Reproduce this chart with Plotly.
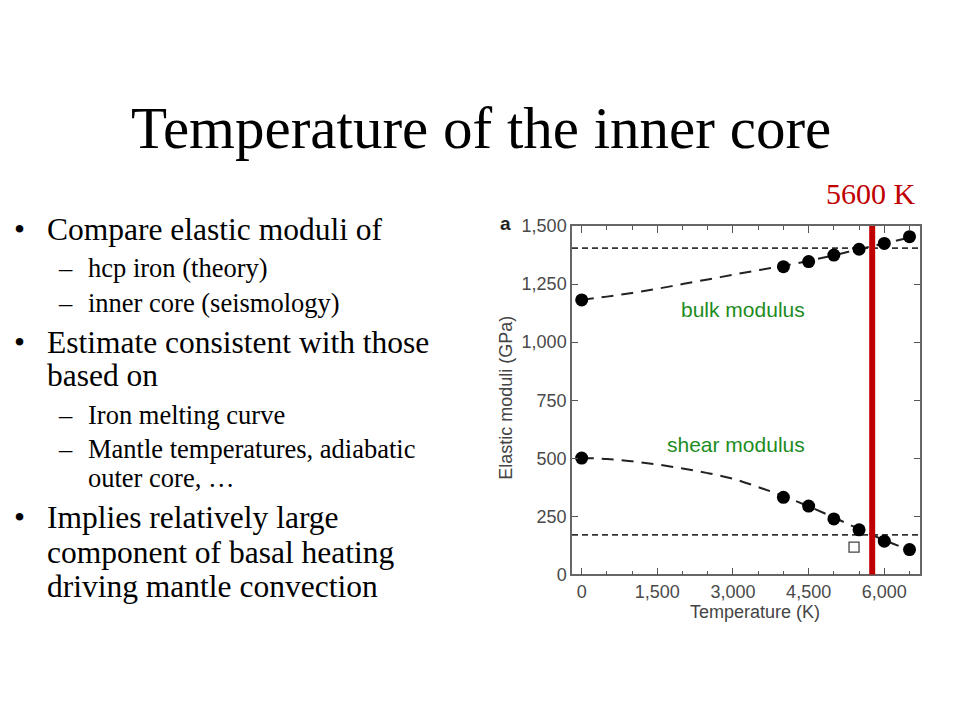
import plotly.graph_objects as go

# ---------------- data ----------------
temps_pts = [0, 4000, 4500, 5000, 5500, 6000, 6500]
bulk_pts = [1182, 1325, 1347, 1375, 1400, 1425, 1454]
shear_pts = [501, 332, 294, 239, 192, 143, 107]

fit_temps = [0, 500, 1000, 1500, 2000, 2500, 3000, 3500, 4000, 4500, 5000, 5500, 6000, 6500]
bulk_fit = [1182, 1196, 1212, 1230, 1250, 1270, 1290, 1310, 1328, 1350, 1374, 1400, 1425, 1450]
shear_fit = [501, 497, 487, 473, 456, 436, 412, 376, 337, 293, 245, 195, 147, 105]

open_temp = [5400]
open_shear = [117]

bulk_core = 1405   # inner core bulk modulus (seismology)
shear_core = 170   # inner core shear modulus (seismology)
marker_temp = 5760  # red vertical line position
x_ticks = [0, 1500, 3000, 4500, 6000]
y_ticks = [0, 250, 500, 750, 1000, 1250, 1500]

title = "Temperature of the inner core"
bullets = [
    # (level, text, x_px, baseline_px, show_marker)
    (1, "Compare elastic moduli of", 47, 240, True),
    (2, "hcp iron (theory)", 88, 277, True),
    (2, "inner core (seismology)", 88, 312, True),
    (1, "Estimate consistent with those", 47, 353, True),
    (1, "based on", 47, 386, False),
    (2, "Iron melting curve", 88, 424, True),
    (2, "Mantle temperatures, adiabatic", 88, 458, True),
    (2, "outer core, \u2026", 88, 487, False),
    (1, "Implies relatively large", 47, 528, True),
    (1, "component of basal heating", 47, 563, False),
    (1, "driving mantle convection", 47, 597, False),
]

# ---------------- layout helpers ----------------
W, H = 960, 720
OFF = 8  # page offset of the plot div
def px(x):
    return (x - OFF) / W
def py(y):
    d = (y - 8.8) / 0.974
    return 1 - (d - OFF) / H

serif = "Liberation Serif, Times New Roman, serif"
sans = "Liberation Sans, Arial, sans-serif"

fig = go.Figure()

# fit curves
fig.add_trace(go.Scatter(x=fit_temps, y=bulk_fit, mode="lines", line_shape="spline",
                         line=dict(color="#222", width=2, dash="12px,8px"),
                         hoverinfo="skip", showlegend=False))
fig.add_trace(go.Scatter(x=fit_temps, y=shear_fit, mode="lines", line_shape="spline",
                         line=dict(color="#222", width=2, dash="12px,8px"),
                         hoverinfo="skip", showlegend=False))
# points
fig.add_trace(go.Scatter(x=temps_pts, y=bulk_pts, mode="markers",
                         marker=dict(color="black", size=13, symbol="circle"),
                         showlegend=False))
fig.add_trace(go.Scatter(x=temps_pts, y=shear_pts, mode="markers",
                         marker=dict(color="black", size=13, symbol="circle"),
                         showlegend=False))
fig.add_trace(go.Scatter(x=open_temp, y=open_shear, mode="markers",
                         marker=dict(color="white", size=10, symbol="square",
                                     line=dict(color="#444", width=1.3)),
                         showlegend=False))

# horizontal seismology reference lines
for v in (bulk_core, shear_core):
    fig.add_shape(type="line", xref="x domain", yref="y", x0=0, x1=1, y0=v, y1=v,
                  line=dict(color="#333", width=1.6, dash="6px,4px"), layer="below")

# red temperature line
fig.add_shape(type="line", xref="x", yref="y domain", x0=marker_temp, x1=marker_temp,
              y0=0, y1=1, line=dict(color="#C00000", width=6))

axis_common = dict(showgrid=False, zeroline=False, showline=True, linecolor="#666",
                   linewidth=1.5, ticks="inside", tickcolor="#555", tickwidth=1.3,
                   mirror="allticks", tickformat=",",
                   tickfont=dict(family=sans, size=18, color="#4a4a4a"))

fig.update_layout(
    width=W, height=H, margin=dict(l=0, r=0, t=0, b=0),
    paper_bgcolor="white", plot_bgcolor="white", showlegend=False,
    xaxis=dict(range=[-192, 6708], domain=[px(572), px(920)], tickvals=x_ticks,
               ticklen=7, minor=dict(dtick=500, tick0=0, ticks="inside", ticklen=4,
                                     tickcolor="#555", tickwidth=1.2),
               **axis_common),
    yaxis=dict(range=[0, 1500], domain=[py(574), py(225)], tickvals=y_ticks,
               ticklen=6, **axis_common),
)

ann = []
ann.append(dict(text=title, x=px(481), y=py(127), xref="paper", yref="paper",
                showarrow=False, xanchor="center", yanchor="middle",
                font=dict(family=serif, size=59, color="black")))
for level, text, x0, base, mark in bullets:
    size = 31.5 if level == 1 else 26.5
    cy = base - 0.36 * size
    ann.append(dict(text=text, x=px(x0 - 2), y=py(cy), xref="paper", yref="paper",
                    showarrow=False, xanchor="left", yanchor="middle",
                    font=dict(family=serif, size=size, color="black")))
    if mark:
        sym = "\u2022" if level == 1 else "\u2013"
        mx = 12 if level == 1 else 56
        ann.append(dict(text=sym, x=px(mx), y=py(cy), xref="paper", yref="paper",
                        showarrow=False, xanchor="left", yanchor="middle",
                        font=dict(family=serif, size=size, color="black")))

ann.append(dict(text="5600 K", x=px(871), y=py(192), xref="paper", yref="paper",
                showarrow=False, xanchor="center", yanchor="middle",
                font=dict(family=serif, size=30, color="#C00000")))
ann.append(dict(text="bulk modulus", x=px(743), y=py(309), xref="paper", yref="paper",
                showarrow=False, xanchor="center", yanchor="middle",
                font=dict(family=sans, size=21, color="#1E8C1E")))
ann.append(dict(text="shear modulus", x=px(736), y=py(444), xref="paper", yref="paper",
                showarrow=False, xanchor="center", yanchor="middle",
                font=dict(family=sans, size=21, color="#1E8C1E")))
ann.append(dict(text="<b>a</b>", x=px(505), y=py(222), xref="paper", yref="paper",
                showarrow=False, xanchor="center", yanchor="middle",
                font=dict(family=sans, size=19, color="#222")))
ann.append(dict(text="Elastic moduli (GPa)", x=px(506), y=py(397), xref="paper",
                yref="paper", showarrow=False, textangle=-90, xanchor="center",
                yanchor="middle", font=dict(family=sans, size=18, color="#444")))
ann.append(dict(text="Temperature (K)", x=px(755), y=py(612), xref="paper",
                yref="paper", showarrow=False, xanchor="center", yanchor="middle",
                font=dict(family=sans, size=18, color="#444")))
fig.update_layout(annotations=ann)

fig.write_html("out.html")
